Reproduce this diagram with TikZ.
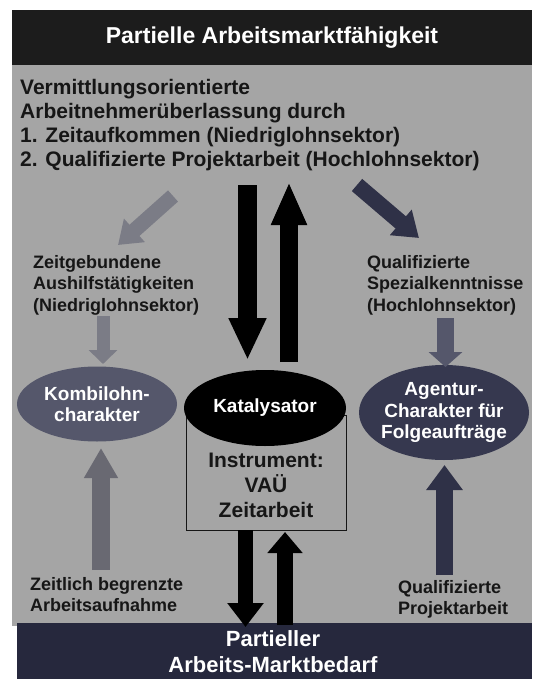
\documentclass[tikz,border=0pt]{standalone}
\usepackage{fontspec}
\setmainfont{Liberation Sans}
\usetikzlibrary{arrows.meta,shapes.geometric,positioning}

\definecolor{barblack}{HTML}{1C1C1C}
\definecolor{panelgray}{HTML}{A5A5A5}
\definecolor{barnavy}{HTML}{26283D}
\definecolor{inkdark}{HTML}{161616}
\definecolor{ovalgray}{HTML}{55576B}
\definecolor{ovalnavy}{HTML}{36384F}
\definecolor{arrowgray}{HTML}{7B7C86}
\definecolor{arrownavy}{HTML}{2F3147}

\begin{document}
\begin{tikzpicture}[
    x=1pt, y=-1pt,
    every node/.style={inner sep=0pt},
    banner/.style={fill=#1, text=white, align=center,
        font=\bfseries\fontsize{23}{31}\selectfont},
    oval/.style={ellipse, fill=#1, text=white, align=center,
        font=\bfseries\fontsize{19}{21.5}\selectfont},
    sidetext/.style={anchor=north west, align=left, text=inkdark,
        font=\bfseries\fontsize{18}{21.5}\selectfont},
    fatarrow/.style n args={3}{line width=#1,
        -{Triangle[width=#2, length=#3]}},
]
    \useasboundingbox (0,0) rectangle (532,679);
    \clip (0,0) rectangle (532,679);

    % 灰色底板
    \fill[panelgray] (12,60) rectangle (532,626);

    % 顶部和底部标题栏
    \node[banner=barblack, minimum width=520pt, minimum height=55pt] (topbar) at (272,37.5) {Partielle Arbeitsmarktfähigkeit};
    \node[banner=barnavy, minimum width=515pt, minimum height=60pt, anchor=north west] (botbar) at (17,623) {};
    \node[banner=barnavy, fill=none, anchor=north, font=\bfseries\fontsize{22}{26}\selectfont] (bottxt) at (273,630) {Partieller\\Arbeits-Marktbedarf};

    % 文字块
    \node[sidetext, font=\bfseries\fontsize{21}{24}\selectfont] (intro) at (20,78.7) {Vermittlungsorientierte\\Arbeitnehmerüberlassung durch\\1. Zeitaufkommen (Niedriglohnsektor)\\2. Qualifizierte Projektarbeit (Hochlohnsektor)};
    \node[sidetext] (lefttxt) at (33,255) {Zeitgebundene\\Aushilfstätigkeiten\\(Niedriglohnsektor)};
    \node[sidetext] (righttxt) at (367,255) {Qualifizierte\\Spezialkenntnisse\\(Hochlohnsektor)};
    \node[sidetext] (botleft) at (30,577) {Zeitlich begrenzte\\Arbeitsaufnahme};
    \node[sidetext] (botright) at (398,580) {Qualifizierte\\Projektarbeit};

    % 中间的框和椭圆
    \node[draw=inkdark, line width=1pt, minimum width=160pt, minimum height=115pt] (instr) at (266,472.5) {};
    \node[text=inkdark, align=center, anchor=north, font=\bfseries\fontsize{21}{25}\selectfont] (instrtxt) at (266,453) {Instrument:\\VAÜ\\Zeitarbeit};
    \node[oval=ovalgray, minimum width=160pt, minimum height=75pt] (kombi) at (97,404) {Kombilohn-\\charakter};
    \node[oval=black, minimum width=162pt, minimum height=76pt] (kat) at (265,408) {Katalysator};
    \node[oval=ovalnavy, inner xsep=-5pt, minimum width=170pt, minimum height=95pt] (agentur) at (444,412.5) {Agentur-\\Charakter für\\Folgeaufträge};

    % 箭头端点
    \coordinate (midDnA) at (247.5,185);  \coordinate (midDnB) at (247.5,360);
    \coordinate (midUpA) at (289,362);    \coordinate (midUpB) at (289,182);
    \coordinate (lowDnA) at (245.5,530);  \coordinate (lowDnB) at (245.5,627);
    \coordinate (lowUpA) at (285,625);    \coordinate (lowUpB) at (285,532);
    \coordinate (diagLA) at (173,196);    \coordinate (diagLB) at (118,245);
    \coordinate (diagRA) at (357,185);    \coordinate (diagRB) at (419,238);
    \coordinate (smallLA) at (103,316);   \coordinate (smallLB) at (103,364);
    \coordinate (smallRA) at (445.5,318); \coordinate (smallRB) at (445.5,367);
    \coordinate (upLA) at (101,570);      \coordinate (upLB) at (101,448);
    \coordinate (upRA) at (444.5,575);    \coordinate (upRB) at (444.5,465);

    \draw[fatarrow={19pt}{35pt}{42pt}, draw=black] (midDnA) -- (midDnB);
    \draw[fatarrow={18pt}{33pt}{43pt}, draw=black] (midUpA) -- (midUpB);
    \draw[fatarrow={15pt}{35pt}{24pt}, draw=black] (lowDnA) -- (lowDnB);
    \draw[fatarrow={16pt}{34pt}{21pt}, draw=black] (lowUpA) -- (lowUpB);
    \draw[fatarrow={15pt}{30pt}{22pt}, draw=arrowgray] (diagLA) -- (diagLB);
    \draw[fatarrow={16pt}{32pt}{24pt}, draw=arrownavy] (diagRA) -- (diagRB);
    \draw[fatarrow={13pt}{28pt}{14pt}, draw=arrowgray] (smallLA) -- (smallLB);
    \draw[fatarrow={17pt}{33pt}{15pt}, draw=ovalgray] (smallRA) -- (smallRB);
    \draw[fatarrow={18pt}{32pt}{30pt}, draw=arrowgray!85!black] (upLA) -- (upLB);
    \draw[fatarrow={17pt}{35pt}{25pt}, draw=arrownavy] (upRA) -- (upRB);
\end{tikzpicture}
\end{document}
